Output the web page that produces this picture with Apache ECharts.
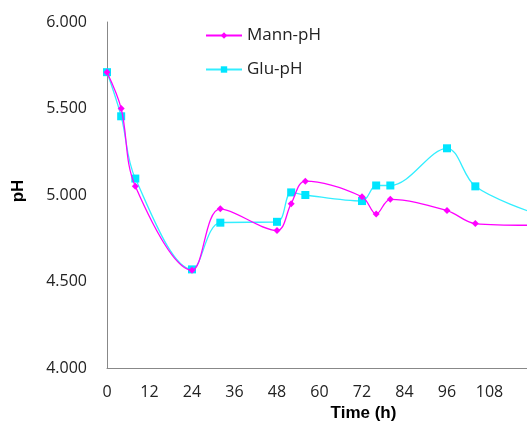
<!DOCTYPE html>
<html><head><meta charset="utf-8">
<script src="https://cdn.jsdelivr.net/npm/echarts@6/dist/echarts.min.js"></script>
<style>html,body{margin:0;padding:0;background:#fff}#c{width:527px;height:423px}</style>
</head><body><div id="c"></div>
<script>
var timeMann = [0, 4, 8, 24, 32, 48, 52, 56, 72, 76, 80, 96, 104, 120];
var mannPH   = [5.71, 5.50, 5.05, 4.565, 4.92, 4.795, 4.95, 5.08, 4.99, 4.89, 4.975, 4.91, 4.835, 4.825];
var timeGlu  = [0, 4, 8, 24, 32, 48, 52, 56, 72, 76, 80, 96, 104, 120];
var gluPH    = [5.71, 5.455, 5.095, 4.57, 4.84, 4.845, 5.015, 5.0, 4.965, 5.055, 5.055, 5.27, 5.05, 4.90];
var yTicks = ['4.000', '4.500', '5.000', '5.500', '6.000'];

function pairs(xs, ys){ return xs.map(function(x,i){return [x, ys[i]];}); }

var chart = echarts.init(document.getElementById('c'));
chart.setOption({
  animation: false,
  backgroundColor: '#fff',
  textStyle: {fontFamily: 'Open Sans'},
  legend: {
    orient: 'vertical', left: 200, top: 22, itemGap: 17,
    itemWidth: 36, itemHeight: 8,
    textStyle: {fontSize: 17, color: '#222', fontFamily: 'Open Sans'},
    data: ['Mann-pH', 'Glu-pH']
  },
  grid: {left: 107, top: 22, width: 425, height: 346, containLabel: false, outerBoundsMode: 'none'},
  xAxis: {
    type: 'value', min: 0, max: 120, interval: 12,
    name: 'Time (h)', nameLocation: 'middle', nameGap: 37,
    nameTextStyle: {fontSize: 17, fontWeight: 'bold', color: '#000', fontFamily: 'Liberation Sans', padding:[0,0,0,88]},
    axisLine: {lineStyle: {color: '#888', width: 1}},
    axisTick: {show: false},
    splitLine: {show: false},
    axisLabel: {fontSize: 16, color: '#222', margin: 16, showMaxLabel: false}
  },
  yAxis: {
    type: 'value', min: 4, max: 6, interval: 0.5,
    name: 'pH', nameLocation: 'middle', nameGap: 80, nameRotate: 90,
    nameTextStyle: {fontSize: 17, fontWeight: 'bold', color: '#000', fontFamily: 'Liberation Sans', padding:[0,0,0,8]},
    axisLine: {show: true, lineStyle: {color: '#888', width: 1}},
    axisTick: {show: false},
    splitLine: {show: false},
    axisLabel: {fontSize: 16, color: '#222', margin: 20,
      formatter: function(v){ var i = Math.round((v-4)/0.5); return yTicks[i]; }}
  },
  series: [
    {
      name: 'Mann-pH', type: 'line', smooth: 0.35,
      data: pairs(timeMann, mannPH),
      symbol: 'diamond', symbolSize: 7,
      lineStyle: {color: '#ff00ff', width: 1.3},
      itemStyle: {color: '#ff00ff'},
      z: 3
    },
    {
      name: 'Glu-pH', type: 'line', smooth: 0.35,
      data: pairs(timeGlu, gluPH),
      symbol: 'rect', symbolSize: 8,
      lineStyle: {color: '#33eeff', width: 1.3},
      itemStyle: {color: '#00e5ff'},
      z: 2
    }
  ]
});
</script></body></html>
